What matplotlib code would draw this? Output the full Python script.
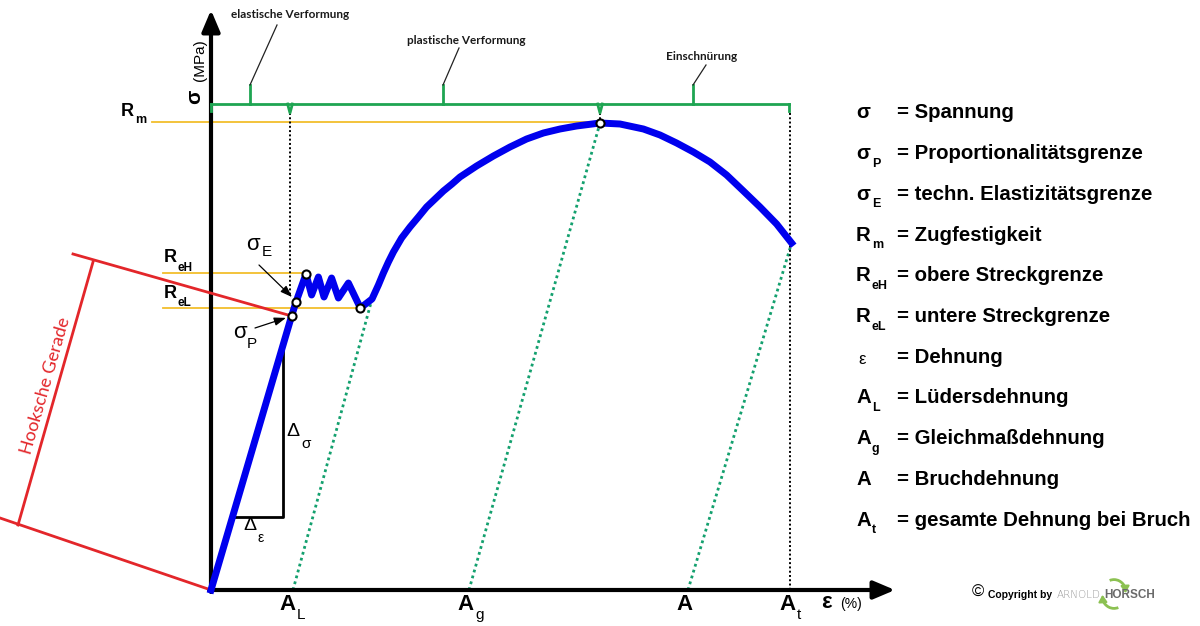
import matplotlib.pyplot as plt
from matplotlib.patches import Arc

# ============== Daten (Dehnung in %, Spannung in MPa) ==============
# Spannungs-Dehnungs-Kurve inkl. Lüdersbereich (Zickzack)
eps_curve = [0, 4.03, 4.25, 4.75, 5.03, 5.37, 5.65, 6.03, 6.37, 6.87, 7.47, 8.05,
             8.37, 8.62, 8.87, 9.12, 9.53, 9.95, 10.37, 10.78, 11.2, 11.62, 12.05,
             12.45, 13.28, 14.12, 14.95, 15.78, 16.62, 17.45, 18.28, 19.45, 20.45,
             21.62, 22.45, 23.28, 24.12, 24.95, 25.78, 26.62, 27.45, 28.28, 29.03]
sig_curve = [0, 274, 288, 316, 295, 313, 293, 312, 292, 307, 282, 291,
             305, 317, 328, 338, 352, 363, 373, 383, 391, 399, 406,
             413, 424, 434, 443, 451, 457, 461, 464, 467, 466,
             461, 455, 447, 438, 428, 415, 399, 383, 366, 347]

# markierte Punkte: sigma_P, sigma_E, R_eH, R_eL, R_m
pt_eps = [4.03, 4.25, 4.75, 7.47, 19.45]
pt_sig = [274, 288, 316, 282, 467]

# Kennwerte
R_m, R_eH, R_eL = 468, 317, 282
A_L, A_g, A_, A_t = 3.95, 12.85, 23.8, 28.95

# grüne Entlastungsgeraden (Fußpunkt -> Kurvenpunkt)
unload_eps0 = [4.1, 12.9, 23.85]
unload_eps1 = [8.05, 19.45, 29.03]
unload_sig1 = [291, 467, 347]

# Hookesche Gerade (Bemaßung)
hooke_up_x, hooke_up_y = [-6.9, 4.03], [336, 274]
hooke_lo_x, hooke_lo_y = [-10.55, 0], [72, 0]
hooke_dim_x, hooke_dim_y = [-5.9, -9.65], [328, 65]

# Steigungsdreieck
tri_x, tri_y = [1.07, 3.6, 3.6], [73, 73, 240]

# Klammer oben (Bereiche)
brace_sig, brace_low, brace_up = 486, 477, 505
brace_ends = [0, 28.9]
brace_notch = [3.95, 19.45]
brace_ticks = [1.95, 11.6, 24.1]
leader_top_x = [3.3, 12.4, 24.75]
leader_top_y = [565, 542, 525]

legend_sym = ['σ', 'σ', 'σ', 'R', 'R', 'R', 'ε', 'A', 'A', 'A', 'A']
legend_sub = ['', 'P', 'E', 'm', 'eH', 'eL', '', 'L', 'g', '', 't']
legend_txt = ['= Spannung', '= Proportionalitätsgrenze', '= techn. Elastizitätsgrenze',
              '= Zugfestigkeit', '= obere Streckgrenze', '= untere Streckgrenze',
              '= Dehnung', '= Lüdersdehnung', '= Gleichmaßdehnung',
              '= Bruchdehnung', '= gesamte Dehnung bei Bruch']

BLUE = '#0000ee'
GREEN = '#1ea552'
DOTGREEN = '#13a06e'
YELLOW = '#f2be2c'
RED = '#e3262a'
ARIAL = 'Liberation Sans'
CALIBRI = 'Lato'

fig = plt.figure(figsize=(12, 6.26), dpi=100)
ax = fig.add_axes([0, 0, 1, 1])
ax.set_xlim(-10.55, 49.45)
ax.set_ylim(-36, 590)
ax.axis('off')


def T(px, py, s, **kw):
    # Textposition in Pixeln (von oben links)
    kw.setdefault('va', 'center')
    kw.setdefault('ha', 'left')
    kw.setdefault('family', ARIAL)
    fig.text(px / 1200, 1 - py / 626, s, **kw)


# Achsen mit Pfeilen
ax.annotate('', xy=(0, 580), xytext=(0, -2),
            arrowprops=dict(arrowstyle='-|>,head_width=0.55,head_length=1.3',
                            lw=3, color='black', shrinkA=0, shrinkB=0))
ax.annotate('', xy=(34.2, 0), xytext=(-0.1, 0),
            arrowprops=dict(arrowstyle='-|>,head_width=0.55,head_length=1.3',
                            lw=3, color='black', shrinkA=0, shrinkB=0))

# gelbe Hilfslinien
ax.plot([-2.95, pt_eps[4]], [R_m, R_m], color=YELLOW, lw=1.3, zorder=2)
ax.plot([-2.4, pt_eps[2]], [R_eH, R_eH], color=YELLOW, lw=1.3, zorder=2)
ax.plot([-2.4, pt_eps[3]], [R_eL, R_eL], color=YELLOW, lw=1.3, zorder=2)

# Entlastungsgeraden
for x0, x1, y1 in zip(unload_eps0, unload_eps1, unload_sig1):
    ax.plot([x0, x1], [0, y1], color=DOTGREEN, lw=2, ls=(0, (1, 1.2)), zorder=2)

# schwarze gepunktete Senkrechten
ax.plot([A_L, A_L], [brace_low, 295], color='black', lw=1.4, ls=(0, (1, 1.2)), zorder=2)
ax.plot([pt_eps[4], pt_eps[4]], [brace_low, R_m], color='black', lw=1.4, ls=(0, (1, 1.2)), zorder=2)
ax.plot([A_t, A_t], [brace_low, 0], color='black', lw=1.4, ls=(0, (1, 1.2)), zorder=2)

# Klammer
ax.plot([brace_ends[0], brace_ends[1]], [brace_sig, brace_sig], color=GREEN, lw=2, zorder=3)
for xe in brace_ends:
    ax.plot([xe, xe], [brace_sig, brace_low + 2], color=GREEN, lw=2, zorder=3)
for xn in brace_notch:
    ax.plot([xn - 0.12, xn, xn + 0.12], [brace_sig, brace_low, brace_sig], color=GREEN, lw=2, zorder=3)
for xt, lx, ly in zip(brace_ticks, leader_top_x, leader_top_y):
    ax.plot([xt, xt], [brace_sig, brace_up], color=GREEN, lw=2, zorder=3)
    ax.plot([xt, lx], [brace_up, ly], color='#222222', lw=0.9, zorder=3)

# Hookesche Gerade
ax.plot(hooke_up_x, hooke_up_y, color=RED, lw=2, zorder=3)
ax.plot(hooke_lo_x, hooke_lo_y, color=RED, lw=2, zorder=3)
ax.plot(hooke_dim_x, hooke_dim_y, color=RED, lw=2, zorder=3)
T(46, 386, 'Hooksche Gerade', color=RED, family=CALIBRI, fontsize=13,
  rotation=74, ha='center', rotation_mode='anchor')

# Steigungsdreieck
ax.plot(tri_x, tri_y, color='black', lw=2, zorder=3)

# Kurve
ax.plot(eps_curve, sig_curve, color=BLUE, lw=5, solid_joinstyle='round', zorder=4)
ax.scatter(pt_eps, pt_sig, s=34, facecolor='white', edgecolor='black', linewidth=1.5, zorder=6)

# Pfeile zu sigma_E und sigma_P
ax.annotate('', xy=(pt_eps[1] - 0.1, pt_sig[1] + 3), xytext=(2.4, 325),
            arrowprops=dict(arrowstyle='-|>,head_width=0.25,head_length=0.7',
                            lw=0.9, color='black', shrinkA=0, shrinkB=2), zorder=7)
ax.annotate('', xy=(pt_eps[0] - 0.15, pt_sig[0] - 1), xytext=(2.2, 262),
            arrowprops=dict(arrowstyle='-|>,head_width=0.25,head_length=0.7',
                            lw=0.9, color='black', shrinkA=0, shrinkB=2), zorder=7)

# Beschriftungen an der Kurve
T(246, 245, 'σ', fontsize=16)
T(262, 252, 'E', fontsize=11)
T(233, 333, 'σ', fontsize=16)
T(247, 344, 'P', fontsize=11)
T(286, 432, 'Δ', fontsize=14)
T(301, 444, 'σ', fontsize=11)
T(243, 525, 'Δ', fontsize=14)
T(257, 538, 'ε', fontsize=10)

# linke Beschriftungen
T(121, 112, 'R', fontsize=13, weight='bold')
T(135, 120, 'm', fontsize=9, weight='bold')
T(164, 258, 'R', fontsize=13, weight='bold')
T(177, 268, 'eH', fontsize=8.5, weight='bold')
T(164, 293, 'R', fontsize=13, weight='bold')
T(177, 303, 'eL', fontsize=8.5, weight='bold')

# Achsenbeschriftung sigma
T(195, 97, 'σ', fontsize=15, weight='bold', rotation=90, ha='center')
T(200, 60, '(MPa)', fontsize=11, rotation=90, ha='center')

# untere Beschriftungen
for xa, sub in zip([A_L, A_g, A_, A_t], ['L', 'g', '', 't']):
    pxa = 211 + xa * 20
    T(pxa - 11, 604, 'A', fontsize=16, weight='bold')
    if sub:
        T(pxa + 7, 615, sub, fontsize=11)
T(821, 603, 'ε', fontsize=16, weight='bold')
T(840, 604, '(%)', fontsize=10)

# Bereichs-Beschriftungen oben
T(290, 15, 'elastische Verformung', family=CALIBRI, fontsize=8.5, weight='bold', ha='center', color='#1a1a1a')
T(466, 41, 'plastische Verformung', family=CALIBRI, fontsize=8.5, weight='bold', ha='center', color='#1a1a1a')
T(702, 56, 'Einschnürung', family=CALIBRI, fontsize=8.5, weight='bold', ha='center', color='#1a1a1a')

# Legende rechts
for i, (sym, sub, txt) in enumerate(zip(legend_sym, legend_sub, legend_txt)):
    py = 113 + i * 40.7
    if sym == 'ε':
        T(858, py + 2, sym, fontsize=12)
    else:
        T(856, py, sym, fontsize=14.7, weight='bold')
    if sub:
        T(872, py + 10, sub, fontsize=9, weight='bold')
    T(897, py, txt, fontsize=14.7, weight='bold')

# Copyright
T(972, 592, '©', fontsize=12)
T(988, 595, 'Copyright by', fontsize=7.5, weight='bold')
T(1057, 595, 'ARNOLD', family='DejaVu Sans', fontsize=7.5, weight='light', color='#9a9a9a')
T(1104, 595, 'HORSCH', family=ARIAL, fontsize=8.5, weight='bold', color='#6a6a6a')
logo = fig.add_axes([1098 / 1200, 1 - 614 / 626, 32 / 1200, 40 / 626])
logo.set_xlim(-1, 1)
logo.set_ylim(-1.25, 1.25)
logo.axis('off')
logo.add_patch(Arc((0, 0.1), 1.5, 1.6, theta1=20, theta2=110, color='#8cc152', lw=2))
logo.add_patch(Arc((0, -0.1), 1.5, 1.6, theta1=200, theta2=290, color='#8cc152', lw=2))
logo.annotate('', xy=(0.72, 0.05), xytext=(0.7, 0.4),
              arrowprops=dict(arrowstyle='-|>,head_width=0.25,head_length=0.4',
                              color='#8cc152', lw=1.5, shrinkA=0, shrinkB=0))
logo.annotate('', xy=(-0.72, -0.05), xytext=(-0.7, -0.4),
              arrowprops=dict(arrowstyle='-|>,head_width=0.25,head_length=0.4',
                              color='#8cc152', lw=1.5, shrinkA=0, shrinkB=0))

fig.savefig('out.png', dpi=100)
